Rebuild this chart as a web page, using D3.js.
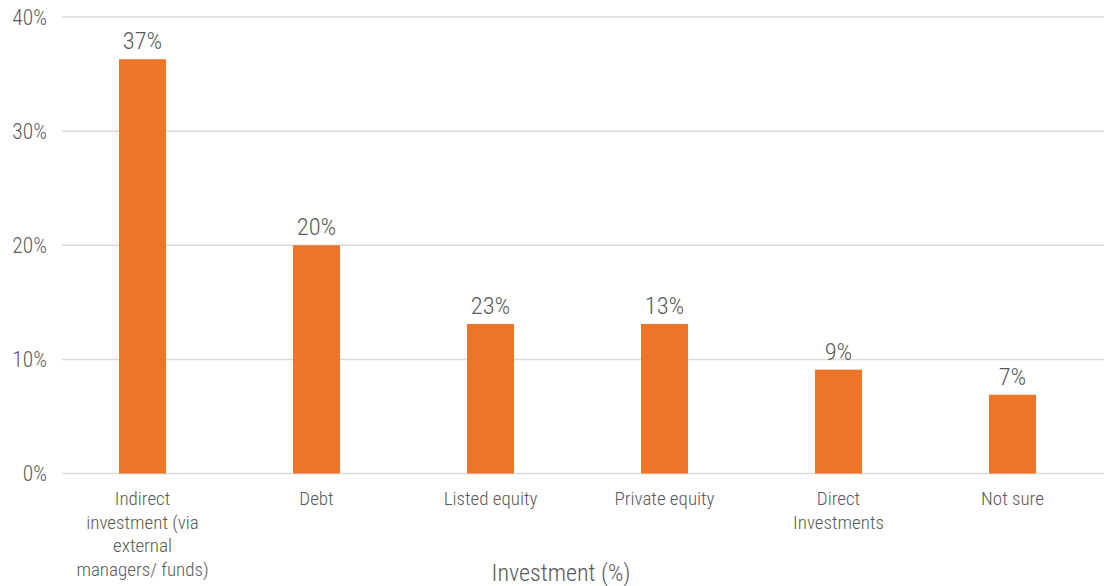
<!DOCTYPE html>
<html><head><meta charset="utf-8">
<script src="https://cdn.jsdelivr.net/npm/d3@7"></script>
<style>
body{margin:0;background:#fff;}
text{font-family:'Liberation Sans Narrow','Roboto Condensed','Roboto',sans-serif;fill:#595959;font-weight:300;}
</style></head><body>
<svg id="c" width="1104" height="586"></svg>
<script>
const categories = ["Indirect investment (via external managers/ funds)", "Debt", "Listed equity", "Private equity", "Direct Investments", "Not sure"];
const values = [36.3, 20.0, 13.1, 13.1, 9.1, 6.9];
const valueLabels = ["37%", "20%", "23%", "13%", "9%", "7%"];
const yTicks = [0, 10, 20, 30, 40];
const axisTitle = "Investment (%)";

const svg = d3.select("#c");
const x = d3.scaleBand().domain(categories).range([55.5, 1099.5]).paddingInner(0.73).paddingOuter(0.365);
const y = d3.scaleLinear().domain([0, 40]).range([473.5, 17]);

// gridlines
svg.append("g").selectAll("line").data(yTicks).join("line")
  .attr("x1", 62).attr("x2", 1104)
  .attr("y1", d => y(d)).attr("y2", d => y(d))
  .attr("stroke", "#d9d9d9").attr("stroke-width", 1.5);

// y tick labels
svg.append("g").selectAll("text").data(yTicks).join("text")
  .attr("x", 47).attr("y", d => y(d) + 7.5)
  .attr("text-anchor", "end").attr("font-size", 21.5)
  .text(d => d + "%");

// bars
svg.append("g").selectAll("rect").data(values).join("rect")
  .attr("x", (d, i) => x(categories[i]))
  .attr("width", x.bandwidth())
  .attr("y", d => y(d))
  .attr("height", d => y(0) - y(d))
  .attr("fill", "#ED7527");

// value labels
svg.append("g").selectAll("text").data(values).join("text")
  .attr("x", (d, i) => x(categories[i]) + x.bandwidth() / 2)
  .attr("y", d => y(d) - 10)
  .attr("text-anchor", "middle").attr("font-size", 24.5)
  .text((d, i) => valueLabels[i]);

// category labels with wrapping
const maxW = 136;
const catG = svg.append("g");
categories.forEach((c, i) => {
  const cx = x(c) + x.bandwidth() / 2;
  const t = catG.append("text").attr("text-anchor", "middle").attr("font-size", 19)
    .attr("x", cx).attr("y", 505);
  const words = c.split(" ");
  let line = [], lineNo = 0;
  let ts = t.append("tspan").attr("x", cx).attr("y", 505);
  words.forEach(w => {
    line.push(w);
    ts.text(line.join(" "));
    if (ts.node().getComputedTextLength() > maxW && line.length > 1) {
      line.pop();
      ts.text(line.join(" "));
      line = [w];
      lineNo++;
      ts = t.append("tspan").attr("x", cx).attr("y", 505 + lineNo * 23.5).text(w);
    }
  });
});

// axis title
svg.append("text").attr("x", 561).attr("y", 581).attr("text-anchor", "middle")
  .attr("font-size", 24).text(axisTitle);
</script>
</body></html>
